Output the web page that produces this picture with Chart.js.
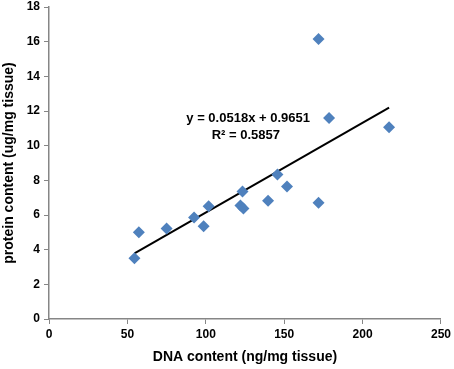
<!DOCTYPE html>
<html><head><meta charset="utf-8">
<script src="https://cdn.jsdelivr.net/npm/chart.js@4/dist/chart.umd.min.js"></script>
<style>html,body{margin:0;padding:0;background:#fff}#wrap{width:454px;height:369px}</style>
</head><body><div id="wrap"><canvas id="c" width="454" height="369"></canvas></div>
<script>
const dnaContent = [54.5, 57.3, 75, 92.5, 98.6, 101.8, 122.1, 123.4, 124, 139.7, 145.7, 151.8, 171.9, 171.9, 178.6, 216.9];
const proteinContent = [3.5, 5.0, 5.22, 5.85, 5.35, 6.5, 6.55, 7.35, 6.38, 6.82, 8.34, 7.65, 6.71, 16.15, 11.6, 11.06];
const trendX = [54.5, 216.9];
const trendY = [3.79, 12.2];
const xTicks = [0, 50, 100, 150, 200, 250];
const yTicks = [0, 2, 4, 6, 8, 10, 12, 14, 16, 18];
const equationLines = ['y = 0.0518x + 0.9651', 'R\u00B2 = 0.5857'];

const font = 'Liberation Sans, Arial, sans-serif';
const axisGray = '#868686';

const eqPlugin = {
  id: 'eq',
  afterDatasetsDraw(chart) {
    const {ctx, scales} = chart;
    ctx.save();
    ctx.font = 'bold 13px ' + font;
    ctx.fillStyle = '#000';
    ctx.textAlign = 'center';
    ctx.textBaseline = 'middle';
    ctx.fillText(equationLines[0], scales.x.getPixelForValue(127), scales.y.getPixelForValue(11.55));
    ctx.fillText(equationLines[1], scales.x.getPixelForValue(125.5), scales.y.getPixelForValue(10.6));
    ctx.restore();
  }
};

new Chart(document.getElementById('c'), {
  data: {
    datasets: [
      {
        type: 'scatter',
        data: dnaContent.map((x, i) => ({x, y: proteinContent[i]})),
        pointStyle: 'rectRot',
        pointRadius: 6,
        backgroundColor: '#4F81BD',
        borderColor: '#4F81BD',
        borderWidth: 0,
        order: 1
      },
      {
        type: 'line',
        data: trendX.map((x, i) => ({x, y: trendY[i]})),
        borderColor: '#000',
        borderWidth: 2,
        pointRadius: 0,
        fill: false,
        order: 2
      }
    ]
  },
  options: {
    responsive: false,
    animation: false,
    layout: {padding: {top: 6, right: 11, left: 0, bottom: 0}},
    plugins: {legend: {display: false}, tooltip: {enabled: false}},
    scales: {
      x: {
        type: 'linear', min: 0, max: 250,
        afterBuildTicks: s => { s.ticks = xTicks.map(v => ({value: v})); },
        afterFit: s => { s.height = 50; },
        grid: {drawOnChartArea: false, drawTicks: true, tickLength: 5, color: axisGray, tickColor: axisGray},
        border: {color: axisGray, width: 1.5},
        ticks: {font: {family: font, size: 12, weight: 'bold'}, color: '#000', padding: 3, maxRotation: 0},
        title: {display: true, text: 'DNA content (ng/mg tissue)', font: {family: font, size: 14, weight: 'bold'}, color: '#000', padding: {top: 2, bottom: 3}}
      },
      y: {
        type: 'linear', min: 0, max: 18,
        afterBuildTicks: s => { s.ticks = yTicks.map(v => ({value: v})); },
        afterFit: s => { s.width = 49; },
        grid: {drawOnChartArea: false, drawTicks: true, tickLength: 5, color: axisGray, tickColor: axisGray},
        border: {color: axisGray, width: 1.5},
        ticks: {font: {family: font, size: 12, weight: 'bold', lineHeight: 0.5}, color: '#000', padding: 4},
        title: {display: true, text: 'protein content (ug/mg tissue)', font: {family: font, size: 14, weight: 'bold'}, color: '#000', padding: {top: 1, bottom: 2}}
      }
    }
  },
  plugins: [eqPlugin]
});
</script></body></html>
